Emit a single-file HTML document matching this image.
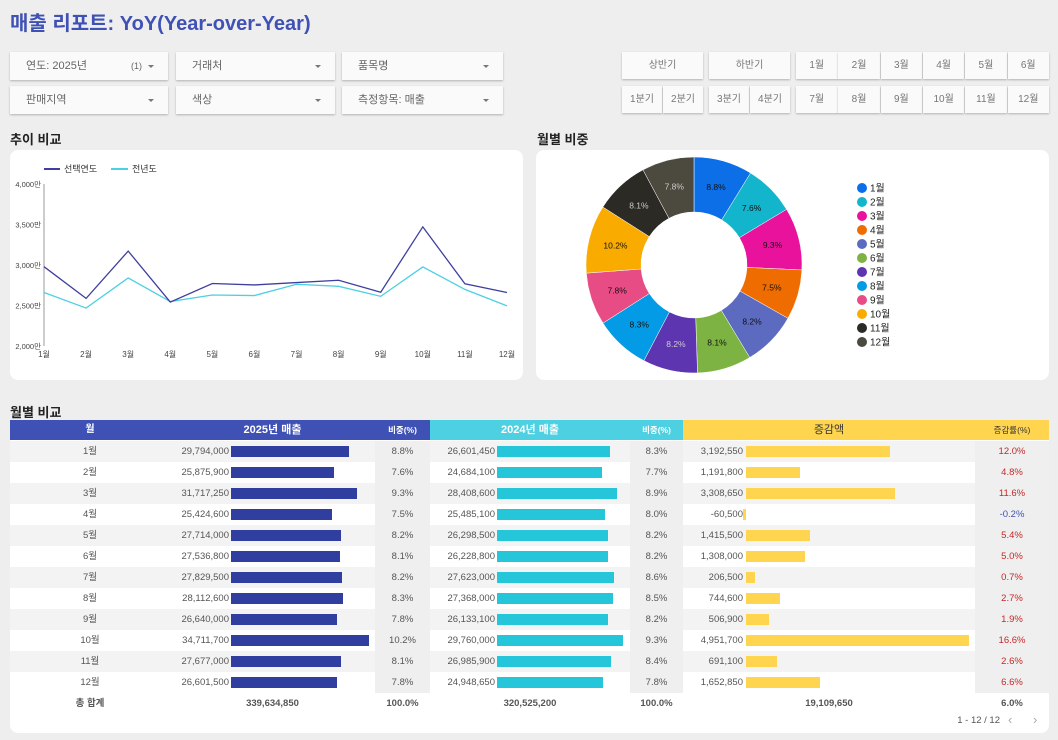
<!DOCTYPE html>
<html><head><meta charset="utf-8">
<style>
*{box-sizing:border-box;margin:0;padding:0}
body{width:1058px;height:740px;background:#eeeeee;font-family:"Liberation Sans","Noto Sans CJK KR",sans-serif;position:relative;overflow:hidden;color:#333}
.abs{position:absolute}
.dd{position:absolute;background:#fafafa;box-shadow:0 1px 2px rgba(0,0,0,.25);font-size:11px;color:#666;padding:0 0 0 16px;line-height:28px}
.dd:after{content:"";position:absolute;right:14px;top:13px;border:3px solid transparent;border-top:3px solid #777}
.btn{position:absolute;background:#fafafa;box-shadow:0 1px 2px rgba(0,0,0,.25);font-size:10px;color:#777;text-align:center;line-height:27px}
.h2{position:absolute;font-size:13px;font-weight:bold;color:#222}
.panel{position:absolute;background:#fff;border-radius:8px}
</style></head><body>
<div class="abs" style="left:10px;top:7px;font-size:20px;font-weight:bold;color:#3f51b5">매출 리포트: YoY(Year-over-Year)</div>

<div class="dd" style="left:10px;top:52px;width:158px">연도: 2025년<span style="position:absolute;right:26px;font-size:9px">(1)</span></div>
<div class="dd" style="left:176px;top:52px;width:159px">거래처</div>
<div class="dd" style="left:342px;top:52px;width:161px">품목명</div>
<div class="dd" style="left:10px;top:86px;width:158px">판매지역</div>
<div class="dd" style="left:176px;top:86px;width:159px">색상</div>
<div class="dd" style="left:342px;top:86px;width:161px">측정항목: 매출</div>

<div class="btn" style="left:622px;top:52px;width:81px">상반기</div>
<div class="btn" style="left:709px;top:52px;width:81px">하반기</div>
<div class="btn" style="left:622px;top:86px;width:40px">1분기</div>
<div class="btn" style="left:663px;top:86px;width:40px">2분기</div>
<div class="btn" style="left:709px;top:86px;width:40px">3분기</div>
<div class="btn" style="left:750px;top:86px;width:40px">4분기</div>
<div id="monthbtns"></div>

<div class="h2" style="left:10px;top:129px">추이 비교</div>
<div class="panel" style="left:10px;top:150px;width:513px;height:230px"></div>
<svg class="abs" id="line" style="left:0;top:0" width="530" height="380"></svg>

<div class="h2" style="left:537px;top:129px">월별 비중</div>
<div class="panel" style="left:536px;top:150px;width:513px;height:230px"></div>
<svg class="abs" id="pie" style="left:0;top:0" width="1058" height="380"></svg>

<div class="h2" style="left:10px;top:402px">월별 비교</div>
<div class="panel" style="left:10px;top:420px;width:1039px;height:313px;border-radius:0 0 8px 8px"></div>
<div id="tbl"></div>

<script>
const months=['1월','2월','3월','4월','5월','6월','7월','8월','9월','10월','11월','12월'];
const sales2025=[29794000,25875900,31717250,25424600,27714000,27536800,27829500,28112600,26640000,34711700,27677000,26601500];
const sales2024=[26601450,24684100,28408600,25485100,26298500,26228800,27623000,27368000,26133100,29760000,26985900,24948650];
const share2025=[8.8,7.6,9.3,7.5,8.2,8.1,8.2,8.3,7.8,10.2,8.1,7.8];
const share2024=[8.3,7.7,8.9,8.0,8.2,8.2,8.6,8.5,8.2,9.3,8.4,7.8];
const yTicks=[20000000,25000000,30000000,35000000,40000000];
const yTickLabels=['2,000만','2,500만','3,000만','3,500만','4,000만'];
const totals=['339,634,850','100.0%','320,525,200','100.0%','19,109,650','6.0%'];
const pieColors=['#0d6fe8','#12b5cb','#e8129c','#ef6c00','#5c6bc0','#7cb342','#5e35b1','#039be5','#e84c84','#f9ab00','#2b2a24','#4c4a3f'];
const NS='http://www.w3.org/2000/svg';
const fmt=n=>n.toLocaleString('en-US');
function mk(p,t,a){const e=document.createElementNS(NS,t);for(const k in a)e.setAttribute(k,a[k]);p.appendChild(e);return e;}

const mb=document.getElementById('monthbtns');
months.forEach((m,i)=>{const d=document.createElement('div');d.className='btn';


const c=i%6,r=Math.floor(i/6);d.style.left=(796+c*42.3)+'px';d.style.top=(r?86:52)+'px';d.style.width='41.5px';d.textContent=m;mb.appendChild(d);});

const L=document.getElementById('line');
const xS=i=>44+i*(507-44)/11, yS=v=>346-(v-20000000)*(162/20000000);
mk(L,'line',{x1:44,y1:184,x2:44,y2:346,stroke:'#999','stroke-width':1});
yTicks.forEach((t,i)=>{const e=mk(L,'text',{x:41,y:yS(t)+3,'text-anchor':'end','font-size':7.5,fill:'#444'});e.textContent=yTickLabels[i];
});
months.forEach((m,i)=>{const e=mk(L,'text',{x:xS(i),y:357,'text-anchor':'middle','font-size':8,fill:'#444'});e.textContent=m;
});
function series(data,col,name){const p=mk(L,'polyline',{points:data.map((v,i)=>xS(i)+','+yS(v)).join(' '),fill:'none',stroke:col,'stroke-width':1.3});
}
series(sales2024,'#4dd0e1','line-previous-year');
series(sales2025,'#3f3f9f','line-selected-year');
mk(L,'line',{x1:44,y1:169,x2:60,y2:169,stroke:'#3f3f9f','stroke-width':2});
let t=mk(L,'text',{x:64,y:172,'font-size':9,fill:'#333'});t.textContent='선택연도';

mk(L,'line',{x1:111,y1:169,x2:128,y2:169,stroke:'#4dd0e1','stroke-width':2});
t=mk(L,'text',{x:132,y:172,'font-size':9,fill:'#333'});t.textContent='전년도';


const P=document.getElementById('pie');const cx=694,cy=265,R=108,r=53;
const tot=sales2025.reduce((a,b)=>a+b,0);let a0=-Math.PI/2;
sales2025.forEach((v,i)=>{const a1=a0+v/tot*2*Math.PI;const la=(a1-a0)>Math.PI?1:0;
const pt=(rad,a)=>[cx+rad*Math.cos(a),cy+rad*Math.sin(a)];
const [x1,y1]=pt(R,a0),[x2,y2]=pt(R,a1),[x3,y3]=pt(r,a1),[x4,y4]=pt(r,a0);
const s=mk(P,'path',{d:`M${x1},${y1}A${R},${R} 0 ${la} 1 ${x2},${y2}L${x3},${y3}A${r},${r} 0 ${la} 0 ${x4},${y4}Z`,fill:pieColors[i],stroke:'#fff','stroke-width':0.5});

const am=(a0+a1)/2;const [lx,ly]=pt(81,am);
const tx=mk(P,'text',{x:lx,y:ly+3,'text-anchor':'middle','font-size':8.5,fill:[6,10,11].includes(i)?'#ccc':'#111'});tx.textContent=share2025[i].toFixed(1)+'%';

a0=a1;
const ly2=188+i*14;mk(P,'circle',{cx:862,cy:ly2,r:5,fill:pieColors[i]});
const lt=mk(P,'text',{x:870,y:ly2+3.5,'font-size':10,fill:'#222'});lt.textContent=months[i];
});

const T=document.getElementById('tbl');
function div(st,txt,name,inter){const d=document.createElement('div');d.className='abs';d.style.cssText=st;if(txt!==undefined)d.textContent=txt;


T.appendChild(d);return d;}
const hs='top:420px;height:20px;line-height:20px;color:#fff;font-weight:bold;';
div(hs+'left:10px;width:420px;background:#3f51b5','', 'header-2025-bg');
div(hs+'left:430px;width:253px;background:#4dd0e1','', 'header-2024-bg');
div(hs+'left:683px;width:366px;background:#ffd54f','', 'header-change-bg');
div(hs+'left:10px;width:160px;text-align:center;font-size:10px','월','header-month',true);
div(hs+'left:170px;width:205px;text-align:center;font-size:11px','2025년 매출','header-2025-sales',true);
div(hs+'left:375px;width:55px;text-align:center;font-size:8.5px','비중(%)','header-2025-share',true);
div(hs+'left:430px;width:200px;text-align:center;font-size:11px','2024년  매출','header-2024-sales',true);
div(hs+'left:630px;width:53px;text-align:center;font-size:8.5px','비중(%)','header-2024-share',true);
div(hs+'left:683px;width:292px;text-align:center;font-size:11px;color:#333;font-weight:normal','증감액','header-change',true);
div(hs+'left:975px;width:74px;text-align:center;font-size:8.5px;color:#333;font-weight:normal','증감률(%)','header-change-rate',true);
const mx25=34711700/138,mx24=29760000/126,mxd=4951700/223;
months.forEach((m,i)=>{const y=441+i*21;const bg=i%2==0?'#f3f3f3':'#fff';
div(`left:10px;top:${y}px;width:1039px;height:21px;background:${bg}`,undefined,'row-bg');
div(`left:375px;top:${y}px;width:55px;height:21px;background:#efefef`,undefined,'share-col-bg');
div(`left:630px;top:${y}px;width:53px;height:21px;background:#efefef`,undefined,'share-col-bg');
div(`left:975px;top:${y}px;width:74px;height:21px;background:#efefef`,undefined,'rate-col-bg');
const c=(st,tx,n,col)=>{div(`top:${y}px;height:21px;line-height:21px;font-size:9.5px;color:${col||'#555'};`+st,tx,n);};
c('left:10px;width:160px;text-align:center',m,'month-cell');
c('left:150px;width:79px;text-align:right',fmt(sales2025[i]),'sales-2025-value');
div(`left:231px;top:${y+5}px;height:11px;width:${sales2025[i]/mx25}px;background:#303f9f`,undefined,'bar-2025');
c('left:375px;width:55px;text-align:center',share2025[i].toFixed(1)+'%','share-2025');
c('left:420px;width:75px;text-align:right',fmt(sales2024[i]),'sales-2024-value');
div(`left:497px;top:${y+5}px;height:11px;width:${sales2024[i]/mx24}px;background:#26c6da`,undefined,'bar-2024');
c('left:630px;width:53px;text-align:center',share2024[i].toFixed(1)+'%','share-2024');
const d=sales2025[i]-sales2024[i];
c('left:663px;width:80px;text-align:right',fmt(d),'change-value');
const w=Math.abs(d)/mxd;
div(`left:${d<0?746-Math.max(w,2):746}px;top:${y+5}px;height:11px;width:${Math.max(w,2)}px;background:#ffd54f`,undefined,'bar-change');
const rate=d/sales2024[i]*100;
c('left:975px;width:74px;text-align:center',rate.toFixed(1)+'%','change-rate',rate<0?'#3f51b5':'#c62828');
});
const ty=693;const tc=(l,w,tx,n)=>div(`left:${l}px;top:${ty}px;width:${w}px;height:21px;line-height:21px;font-size:9.5px;color:#555;font-weight:bold;text-align:center`,tx,n);
tc(10,160,'총 합계','total-label');tc(170,205,totals[0],'total-2025');tc(375,55,totals[1],'total-share-2025');
tc(430,200,totals[2],'total-2024');tc(630,53,totals[3],'total-share-2024');tc(683,292,totals[4],'total-change');tc(975,74,totals[5],'total-rate');
div('left:930px;top:715px;width:70px;font-size:9.5px;color:#555;text-align:right','1 - 12 / 12','pagination-info');
div('left:1008px;top:712px;font-size:13px;color:#aaa','‹','prev-page',true);
div('left:1033px;top:712px;font-size:13px;color:#aaa','›','next-page',true);
</script>
</body></html>
